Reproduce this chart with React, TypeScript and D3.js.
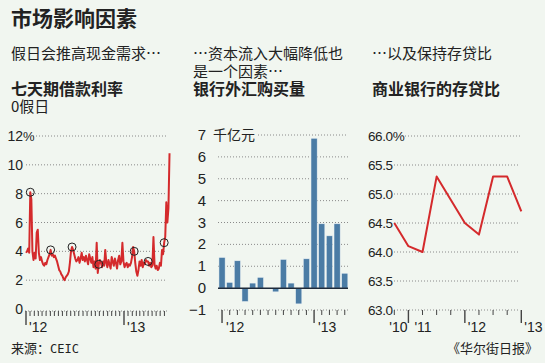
import * as d3 from "d3";

const W = 545;
const H = 363;
const BG = "#f1f6f0";
const RED = "#d42a2c";
const BLUE = "#4b7ca5";
const INK = "#222";
const CJK = "'Noto Sans CJK SC', sans-serif";
const NUM = "'Liberation Sans', Arial, sans-serif";

// left: 7-day repo rate (%), one reading every 4 days from 2012-01-01
const repoStart = new Date(2012, 0, 1);
const repoStepDays = 4;
const repoRates = [
  3.9, 4.0, 4.2, 3.9, 8.1, 7.6, 4.0, 3.4, 3.9, 3.5,
  5.3, 5.5, 3.9, 3.4, 3.6, 3.3, 3.1, 3.0, 3.2, 3.1,
  3.4, 3.6, 3.8, 4.1, 3.7, 3.8, 3.6, 3.7, 3.5, 3.3,
  3.0, 2.7, 2.6, 2.4, 2.3, 2.1, 2.0, 2.2, 2.3, 2.4,
  2.6, 3.2, 4.0, 4.3, 4.1, 3.8, 3.5, 3.3, 3.4, 3.6,
  3.2, 3.5, 3.9, 3.4, 3.6, 3.3, 3.7, 3.4, 3.1, 3.8,
  3.5, 3.2, 3.6, 2.9, 3.3, 2.8, 4.6, 2.5, 3.1, 3.4,
  3.2, 2.9, 3.3, 3.0, 4.1, 3.2, 2.9, 3.4, 3.1, 2.8,
  3.6, 3.3, 3.0, 3.5, 3.2, 2.8, 3.4, 3.7, 3.1, 3.3,
  4.6, 3.3, 2.9, 3.1, 3.2, 2.9, 3.1, 3.0, 3.2, 3.6,
  4.3, 4.0, 3.2, 2.6, 2.3, 2.7, 3.3, 3.0, 3.4, 2.9,
  3.2, 3.1, 3.4, 3.3, 3.3, 3.0, 3.2, 2.9, 3.0, 5.0,
  3.1, 2.8, 3.0, 2.7, 2.8, 3.2, 3.0, 4.1, 3.8, 4.6,
  5.0, 7.4, 6.0, 7.0, 10.8,
];
const holidays = ["2012-01-17", "2012-04-02", "2012-06-21", "2012-09-29", "2013-02-08", "2013-04-01", "2013-05-31"];
const repoTicks = [0, 2, 4, 6, 8, 10, 12];

// middle: banks' FX purchases, 100bn yuan
const fxMonths = [
  "2012-01", "2012-02", "2012-03", "2012-04", "2012-05", "2012-06", "2012-07", "2012-08", "2012-09",
  "2012-10", "2012-11", "2012-12", "2013-01", "2013-02", "2013-03", "2013-04", "2013-05",
];
const fxBuy = [1.4, 0.26, 1.25, -0.61, 0.23, 0.49, -0.04, -0.17, 1.31, 0.23, -0.72, 1.34, 6.85, 2.94, 2.39, 2.94, 0.68];
const fxTicks = [-1, 0, 1, 2, 3, 4, 5, 6, 7];

// right: loan-to-deposit ratio (%), quarterly
const ldrQuarters = ["2010Q4", "2011Q1", "2011Q2", "2011Q3", "2011Q4", "2012Q1", "2012Q2", "2012Q3", "2012Q4", "2013Q1"];
const ldrRatio = [64.5, 64.1, 64.0, 65.3, 64.9, 64.5, 64.3, 65.3, 65.3, 64.7];
const ldrTicks = [63.0, 63.5, 64.0, 64.5, 65.0, 65.5, 66.0];

const grid = { stroke: "#8a8a8a", strokeWidth: 1, strokeDasharray: "1 2" };
const AXIS_Y = 310;

function RepoPanel() {
  const x = d3.scaleTime().domain([new Date(2012, 0, 1), new Date(2013, 0, 1)]).range([26, 124]);
  const y = d3.scaleLinear().domain([0, 12]).range([309, 136]);
  const pts = repoRates.map((v, i) => ({ d: d3.timeDay.offset(repoStart, i * repoStepDays), v }));
  const line = d3.line<{ d: Date; v: number }>().x((p) => x(p.d)).y((p) => y(p.v));
  const months = d3.timeMonth.range(new Date(2012, 0, 1), new Date(2013, 5, 2));
  const ticks = months.flatMap((m) => [m, d3.timeDay.offset(m, 15)]).filter((t) => t <= new Date(2013, 5, 1));
  const holidayPts = holidays.map((s) => {
    const d = d3.timeParse("%Y-%m-%d")(s)!;
    const i = Math.round(d3.timeDay.count(repoStart, d) / repoStepDays);
    return { d, v: repoRates[i] };
  });
  return (
    <g>
      {repoTicks.filter((t) => t > 0).map((t) => (
        <line key={t} x1={t === 12 ? 33 : 26} x2={167} y1={y(t)} y2={y(t)} {...grid} />
      ))}
      {repoTicks.map((t) => (
        <text key={t} x={23} y={y(t) + 5} textAnchor="end" fontFamily={NUM} fontSize={14} fill={INK}>
          {t}
        </text>
      ))}
      <text x={23} y={y(12) + 5} fontFamily={NUM} fontSize={13} fill={INK}>%</text>
      <line x1={25} x2={168} y1={AXIS_Y + 1} y2={AXIS_Y + 1} {...grid} />
      {ticks.map((t, i) => {
        const big = t.getMonth() === 0 && t.getDate() === 1;
        return (
          <line key={i} x1={x(t)} x2={x(t)} y1={AXIS_Y + 1} y2={big ? 325 : 316} stroke="#444" strokeWidth={big ? 1.4 : 1} />
        );
      })}
      {[new Date(2012, 0, 1), new Date(2013, 0, 1)].map((t) => (
        <text key={+t} x={x(t) + 3} y={332} fontFamily={NUM} fontSize={14} fill={INK}>
          {d3.timeFormat("'%y")(t)}
        </text>
      ))}
      <path d={line(pts) ?? ""} fill="none" stroke={RED} strokeWidth={2} strokeLinejoin="round" />
      {holidayPts.map((p, i) => (
        <circle key={i} cx={x(p.d)} cy={y(p.v)} r={4} fill="none" stroke="#222" strokeWidth={1} />
      ))}
    </g>
  );
}

function FxPanel() {
  const x = d3.scaleBand().domain(fxMonths).range([218.2, 348.6]).paddingInner(0.2).paddingOuter(0.1);
  const y = d3.scaleLinear().domain([-1, 7]).range([310, 135]);
  const cx = (m: string) => (x(m) ?? 0) + x.bandwidth() / 2;
  return (
    <g>
      {fxTicks.filter((t) => t !== 0).map((t) => (
        <line key={t} x1={t === 7 ? 258 : 218} x2={348} y1={y(t)} y2={y(t)} {...grid} />
      ))}
      {fxTicks.map((t) => (
        <text key={t} x={206} y={y(t) + 5} textAnchor="end" fontFamily={NUM} fontSize={15} fill={INK}>
          {t < 0 ? `\u2212${-t}` : t}
        </text>
      ))}
      <text x={213} y={y(7) + 5} fontFamily={CJK} fontSize={14} fill={INK}>千亿元</text>
      {fxMonths.map((m, i) => {
        const v = fxBuy[i];
        return (
          <rect key={m} x={x(m)} y={y(Math.max(0, v))} width={x.bandwidth()} height={Math.abs(y(v) - y(0))}
            fill={BLUE} stroke="#e8f0f4" strokeWidth={0.5} />
        );
      })}
      <line x1={218} x2={348} y1={y(0)} y2={y(0)} stroke="#1e2a3a" strokeWidth={1.5} />
      {fxMonths.map((m) => {
        const big = m.endsWith("-01");
        return <line key={m} x1={cx(m)} x2={cx(m)} y1={AXIS_Y} y2={big ? 323 : 315} stroke="#444" strokeWidth={big ? 1.4 : 1} />;
      })}
      {fxMonths.filter((m) => m.endsWith("-01")).map((m) => (
        <text key={m} x={cx(m) + 4} y={332} fontFamily={NUM} fontSize={14} fill={INK}>
          {"'" + m.slice(2, 4)}
        </text>
      ))}
    </g>
  );
}

function LdrPanel() {
  const x = d3.scalePoint().domain(ldrQuarters).range([394.3, 521.3]);
  const y = d3.scaleLinear().domain([63, 66]).range([310, 136]);
  const line = d3.line<number>().x((_, i) => x(ldrQuarters[i]) ?? 0).y((v) => y(v));
  return (
    <g>
      {ldrTicks.map((t) => (
        <line key={t} x1={t === 66 ? 402 : 394} x2={520} y1={y(t)} y2={y(t)} {...grid} />
      ))}
      {ldrTicks.map((t) => (
        <text key={t} x={368} y={y(t) + 5} fontFamily={NUM} fontSize={13.5} fill={INK} letterSpacing={-0.4}>
          {t.toFixed(1) + (t === 66 ? "%" : "")}
        </text>
      ))}
      {ldrQuarters.map((q) => {
        const big = q.endsWith("Q1");
        return <line key={q} x1={x(q)} x2={x(q)} y1={AXIS_Y} y2={big ? 323 : 315} stroke="#444" strokeWidth={big ? 1.4 : 1} />;
      })}
      {ldrQuarters.filter((q, i) => i === 0 || q.endsWith("Q1")).map((q, i) => (
        <text key={q} x={(x(q) ?? 0) + (i === 0 ? -5 : i === 1 ? 6 : 3)} y={332} fontFamily={NUM} fontSize={14} fill={INK}>
          {"'" + q.slice(2, 4)}
        </text>
      ))}
      <path d={line(ldrRatio) ?? ""} fill="none" stroke={RED} strokeWidth={2} strokeLinejoin="round" />
    </g>
  );
}

export default function App() {
  return (
    <svg width={W} height={H} style={{ position: "absolute", left: 0, top: 0, display: "block" }}>
      <rect width={W} height={H} fill={BG} />
      <g fontFamily={CJK} fill={INK}>
        <text x={11} y={26} fontSize={21} fontWeight="bold">市场影响因素</text>
        <text x={11} y={59} fontSize={15}>假日会推高现金需求⋯</text>
        <text x={11} y={95} fontSize={16} fontWeight="bold">七天期借款利率</text>
        <text x={11} y={112} fontSize={15}>0假日</text>
        <text x={193} y={59} fontSize={15}>⋯资本流入大幅降低也</text>
        <text x={193} y={77} fontSize={15}>是一个因素⋯</text>
        <text x={193} y={95} fontSize={16} fontWeight="bold">银行外汇购买量</text>
        <text x={372} y={59} fontSize={15}>⋯以及保持存贷比</text>
        <text x={372} y={95} fontSize={16} fontWeight="bold">商业银行的存贷比</text>
        <text x={11} y={353} fontSize={13}>
          来源：<tspan fontFamily="'DejaVu Sans Mono', monospace" fontSize={12}>CEIC</tspan>
        </text>
        <text x={538} y={353} fontSize={13} textAnchor="end">《华尔街日报》</text>
      </g>
      <RepoPanel />
      <FxPanel />
      <LdrPanel />
    </svg>
  );
}
